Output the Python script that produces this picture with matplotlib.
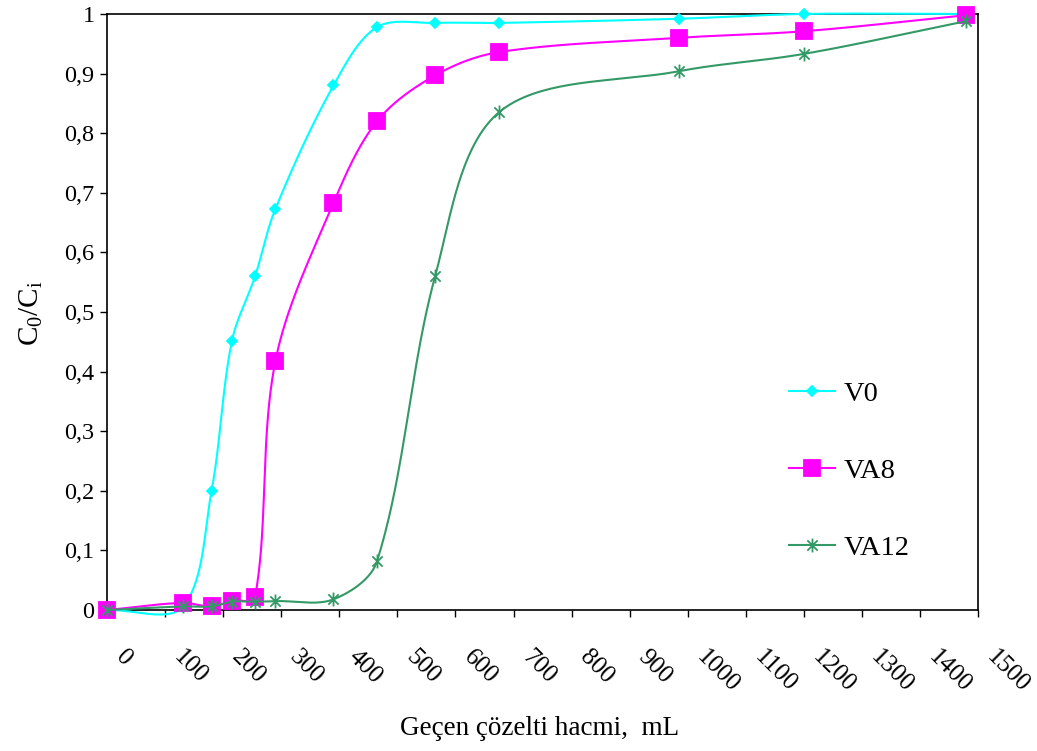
import numpy as np
import matplotlib.pyplot as plt
from matplotlib.lines import Line2D
from matplotlib.path import Path
from matplotlib.transforms import ScaledTranslation

plt.rcParams['font.family'] = ['Liberation Serif', 'DejaVu Serif']
plt.rcParams['mathtext.fontset'] = 'custom'
plt.rcParams['mathtext.rm'] = 'Liberation Serif'
plt.rcParams['mathtext.it'] = 'Liberation Serif:italic'

# data
volume = [0, 130, 180, 215, 255, 290, 390, 465, 565, 675, 985, 1200, 1480]
v0 = [0, 0.005, 0.2, 0.451, 0.56, 0.673, 0.88, 0.978, 0.985, 0.985, 0.992, 1.0, 1.0]
va8 = [0, 0.012, 0.006, 0.015, 0.022, 0.418, 0.683, 0.82, 0.897, 0.936, 0.96, 0.971, 0.998]
va12 = [0, 0.006, 0.006, 0.014, 0.014, 0.015, 0.018, 0.082, 0.56, 0.835, 0.904, 0.933, 0.988]

xticks = list(range(0, 1501, 100))
yticks = [0, 0.1, 0.2, 0.3, 0.4, 0.5, 0.6, 0.7, 0.8, 0.9, 1.0]
ylabels = ['0', '0,1', '0,2', '0,3', '0,4', '0,5', '0,6', '0,7', '0,8', '0,9', '1']


def smooth(x, y, n=40):
    # bezier smoothing, tangents weighted by chord length on screen
    p = np.column_stack([x, y]).astype(float)
    scale = np.array([871 / 1500, 596.0])
    pe = np.vstack([p[0], p, p[-1]])
    t = np.linspace(0, 1, n)[:, None]
    out = []
    for i in range(len(p) - 1):
        p0, p1, p2, p3 = pe[i], pe[i + 1], pe[i + 2], pe[i + 3]
        d0 = np.linalg.norm((p1 - p0) * scale)
        d1 = np.linalg.norm((p2 - p1) * scale)
        d2 = np.linalg.norm((p3 - p2) * scale)
        w1 = d1 / (d0 + d1) / 3 if d0 + d1 > 0 else 0
        w2 = d1 / (d1 + d2) / 3 if d1 + d2 > 0 else 0
        c1 = p1 + (p2 - p0) * w1
        c2 = p2 - (p3 - p1) * w2
        seg = (1 - t)**3 * p1 + 3 * (1 - t)**2 * t * c1 + 3 * (1 - t) * t**2 * c2 + t**3 * p2
        out.append(seg if i == 0 else seg[1:])
    s = np.vstack(out)
    return s[:, 0], s[:, 1]


# asterisk marker: X with a vertical bar
star = Path([(-1, -1), (1, 1), (-1, 1), (1, -1), (0, -1.35), (0, 1.35)],
            [Path.MOVETO, Path.LINETO, Path.MOVETO, Path.LINETO, Path.MOVETO, Path.LINETO])

series = [
    ('V0', v0, '#00FFFF', 'D', 5.6, 3),
    ('VA8', va8, '#FF00FF', 's', 11, 4),
    ('VA12', va12, '#339966', star, 10, 5),
]

fig = plt.figure(figsize=(10.37, 7.51), dpi=100)
ax = fig.add_axes([0.1032, 0.1877, 0.8400, 0.7937])

handles = []
for name, vals, col, mk, ms, z in series:
    sx, sy = smooth(volume, vals)
    ax.plot(sx, sy, color=col, lw=1.5, zorder=z, clip_on=False)
    ax.plot(volume, vals, ls='none', marker=mk, ms=ms, color=col, mfc=col, mec=col,
            mew=1.3, zorder=z, clip_on=False)
    handles.append(Line2D([], [], color=col, lw=1.5, marker=mk, ms=ms, mfc=col, mec=col, mew=1.3))

ax.set_xlim(0, 1500)
ax.set_ylim(0, 1)
ax.set_xticks(xticks)
ax.set_xticklabels([str(v) for v in xticks], rotation=-45, ha='left', va='top', fontsize=18)
ax.set_yticks(yticks)
ax.set_yticklabels(ylabels, fontsize=17.5)
ax.tick_params(axis='x', direction='out', length=5, width=1, pad=21)
ax.tick_params(axis='y', direction='out', length=5, width=1, pad=4)
off = ScaledTranslation(3 / 72, 0, fig.dpi_scale_trans)
for lab in ax.get_xticklabels():
    lab.set_transform(lab.get_transform() + off)
for sp in ax.spines.values():
    sp.set_linewidth(1.2)

ax.set_xlabel('Geçen çözelti hacmi,  mL', fontsize=19.5)
ax.xaxis.set_label_coords(0.497, -0.178)
ax.set_ylabel(r'C$_\mathrm{0}$/C$_\mathrm{i}$', fontsize=21)
ax.yaxis.set_label_coords(-0.071, 0.498)

ax.legend(handles, ['V0', 'VA8', 'VA12'], loc='center left',
          bbox_to_anchor=(0.761, 0.373), bbox_transform=fig.transFigure,
          frameon=False, fontsize=20.5, labelspacing=1.8, handlelength=1.6,
          handletextpad=0.3, borderpad=0, borderaxespad=0)

fig.savefig('out.png', dpi=100)
